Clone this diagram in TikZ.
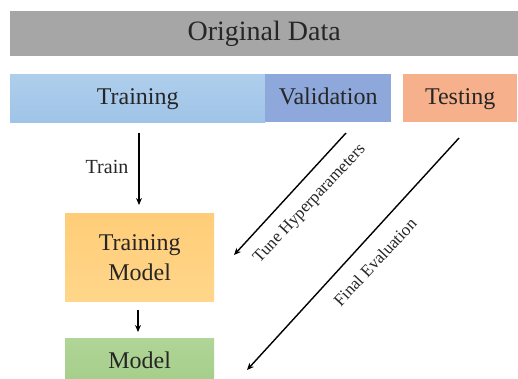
\documentclass[tikz,border=0pt]{standalone}
\usepackage{fontspec}
\setmainfont{Liberation Serif}
\usetikzlibrary{arrows.meta}
\definecolor{graybox}{HTML}{A6A6A6}
\definecolor{trtop}{HTML}{AFCEEC}
\definecolor{trbot}{HTML}{9FC4E7}
\definecolor{valc}{HTML}{8FA8DC}
\definecolor{testc}{HTML}{F6B08C}
\definecolor{tmtop}{HTML}{FFCD78}
\definecolor{tmbot}{HTML}{FFD68A}
\definecolor{mtop}{HTML}{B0D597}
\definecolor{mbot}{HTML}{A5CE8A}
\tikzset{
  box/.style={draw=none, inner sep=0pt, align=center, text=black!85},
  rowbox/.style={box, minimum height=48pt, anchor=north west, text height=17pt, text depth=5pt,
    font=\fontsize{24}{26}\selectfont},
  arr/.style={-{Stealth[length=7pt,width=6pt]}, line width=1.4pt, black},
  lbl/.style={text=black!85, inner sep=1pt},
}
\begin{document}
\begin{tikzpicture}[x=1pt,y=-1pt]
\useasboundingbox[fill=white] (0,0) rectangle (518,378);
% Original Data
\node[box, fill=graybox, minimum width=508pt, minimum height=45pt, anchor=north west,
  text height=19pt, text depth=6pt, font=\fontsize{28}{30}\selectfont] (orig) at (10,11) {Original Data};
% Training / Validation / Testing
\node[rowbox, top color=trtop, bottom color=trbot, minimum width=255pt] (train) at (10,74) {Training};
\node[rowbox, fill=valc, minimum width=126pt] (val) at (265,74) {Validation};
\node[rowbox, fill=testc, minimum width=114pt] (test) at (403,74) {Testing};
% Training Model
\node[box, top color=tmtop, bottom color=tmbot, minimum width=149pt, minimum height=88pt, anchor=north west,
  font=\fontsize{24}{30}\selectfont] (tm) at (65,213) {Training\\Model};
% Model
\node[box, top color=mtop, bottom color=mbot, minimum width=149pt, minimum height=45pt, anchor=north west,
  font=\fontsize{24}{26}\selectfont] (model) at (65,338) {\raisebox{-5pt}{Model}};
% coordinates
\coordinate (trs) at (139,133);
\coordinate (tre) at (139,205);
\coordinate (ms) at (138,310);
\coordinate (me) at (138,332);
\coordinate (tus) at (346,133);
\coordinate (tue) at (234,255);
\coordinate (fes) at (459,138);
\coordinate (fee) at (247,370);
% arrows
\draw[arr] (trs) -- (tre);
\draw[arr] (ms) -- (me);
\draw[arr] (tus) -- (tue);
\draw[arr] (fes) -- (fee);
% labels
\node[lbl, font=\fontsize{20}{22}\selectfont] (trainlbl) at (107,167) {Train};
\node[lbl, font=\fontsize{17}{19}\selectfont, rotate=47] (tunelbl) at (310,204) {Tune Hyperparameters};
\node[lbl, font=\fontsize{17}{19}\selectfont, rotate=47] (finallbl) at (375,262) {Final Evaluation};
\end{tikzpicture}
\end{document}
